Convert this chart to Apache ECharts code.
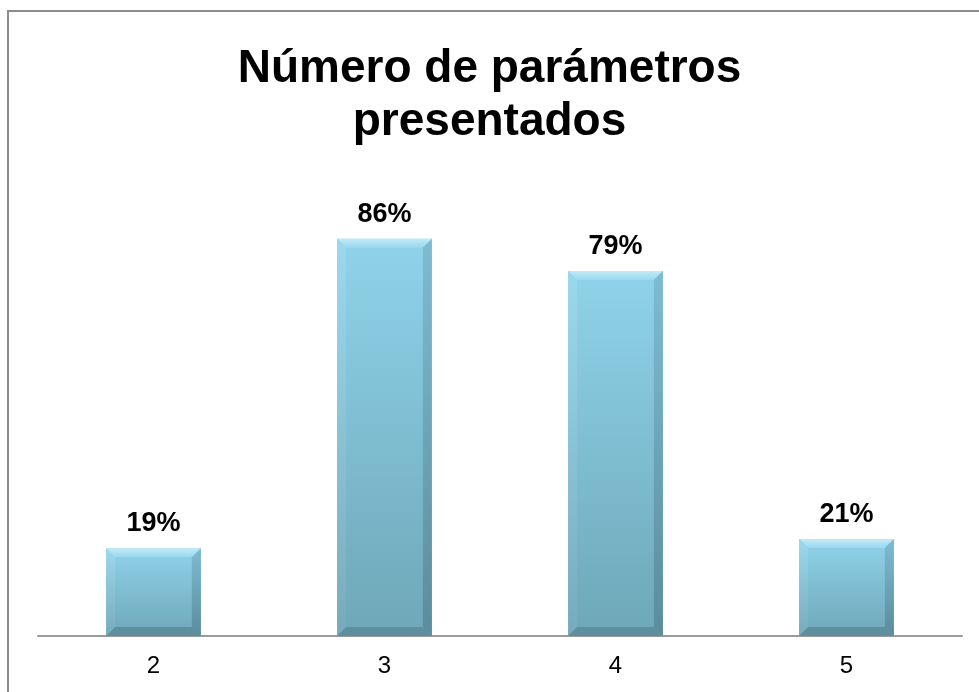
<!DOCTYPE html>
<html>
<head>
<meta charset="utf-8">
<script src="https://cdn.jsdelivr.net/npm/echarts@6/dist/echarts.min.js"></script>
<style>
  html, body { margin: 0; padding: 0; background: #fff; }
  #chart { width: 979px; height: 692px; }
</style>
</head>
<body>
<div id="chart"></div>
<script>
// Number of parameters presented and the share of cases for each
const categories = ['2', '3', '4', '5'];
const shares = [0.19, 0.86, 0.79, 0.21];
const titleText = 'Número de parámetros\npresentados';

const chart = echarts.init(document.getElementById('chart'));
const BAR_RATIO = 0.41;
const BEVEL = 9;

// Bevelled edges drawn over each bar
function bevelItem(params, api) {
  const idx = api.value(0);
  const v = api.value(1);
  const top = api.coord([idx, v]);
  const base = api.coord([idx, 0]);
  const w = api.size([1, 0])[0] * BAR_RATIO;
  const x0 = top[0] - w / 2, x1 = top[0] + w / 2;
  const y0 = top[1], y1 = base[1];
  const b = Math.min(BEVEL, (y1 - y0) / 2);
  return {
    type: 'group',
    children: [
      { type: 'polygon', shape: { points: [[x0, y0], [x1, y0], [x1 - b, y0 + b], [x0 + b, y0 + b]] },
        style: { fill: { type: 'linear', x: 0, y: 0, x2: 0, y2: 1, colorStops: [{ offset: 0, color: '#c2eaf7' }, { offset: 1, color: '#98d8ee' }] } } },
      { type: 'polygon', shape: { points: [[x0, y0], [x0 + b, y0 + b], [x0 + b, y1 - b], [x0, y1]] },
        style: { fill: { type: 'linear', x: 0, y: 0, x2: 0, y2: 1, colorStops: [{ offset: 0, color: '#9cd8ed' }, { offset: 1, color: '#77abbb' }] } } },
      { type: 'polygon', shape: { points: [[x1, y0], [x1 - b, y0 + b], [x1 - b, y1 - b], [x1, y1]] },
        style: { fill: { type: 'linear', x: 0, y: 0, x2: 0, y2: 1, colorStops: [{ offset: 0, color: '#7dbcd2' }, { offset: 1, color: '#5a8c9c' }] } } },
      { type: 'polygon', shape: { points: [[x0, y1], [x0 + b, y1 - b], [x1 - b, y1 - b], [x1, y1]] },
        style: { fill: '#5f8f9e' } }
    ]
  };
}

chart.setOption({
  animation: false,
  backgroundColor: '#ffffff',
  title: {
    text: titleText,
    left: 'center',
    top: 38,
    textStyle: { fontFamily: 'Liberation Sans, Arial, sans-serif', fontWeight: 'bold', fontSize: 46, lineHeight: 53, color: '#000' }
  },
  grid: { left: 38, right: 17, top: 174, bottom: 56, containLabel: false },
  xAxis: {
    type: 'category',
    data: categories,
    axisLine: { lineStyle: { color: '#9a9a9a', width: 2 } },
    axisTick: { show: false },
    axisLabel: { fontFamily: 'Liberation Sans, Arial, sans-serif', fontSize: 24, color: '#000', margin: 18 }
  },
  yAxis: { type: 'value', min: 0, max: 1, show: false, splitLine: { show: false } },
  graphic: [{
    type: 'rect', silent: true, z: 100,
    shape: { x: 8, y: 11, width: 1000, height: 700 },
    style: { fill: 'none', stroke: '#8c8c8c', lineWidth: 2 }
  }],
  series: [
    {
      type: 'bar',
      data: shares,
      barWidth: (BAR_RATIO * 100) + '%',
      itemStyle: {
        color: { type: 'linear', x: 0, y: 0, x2: 0, y2: 1, colorStops: [{ offset: 0, color: '#8fd3ea' }, { offset: 1, color: '#6ea7b8' }] }
      },
      label: {
        show: true, position: 'top', distance: 11,
        formatter: p => Math.round(p.value * 100) + '%',
        fontFamily: 'Liberation Sans, Arial, sans-serif', fontWeight: 'bold', fontSize: 27, color: '#000'
      }
    },
    {
      type: 'custom',
      renderItem: bevelItem,
      data: shares.map((v, i) => [i, v]),
      z: 3,
      silent: true
    }
  ]
});
</script>
</body>
</html>
